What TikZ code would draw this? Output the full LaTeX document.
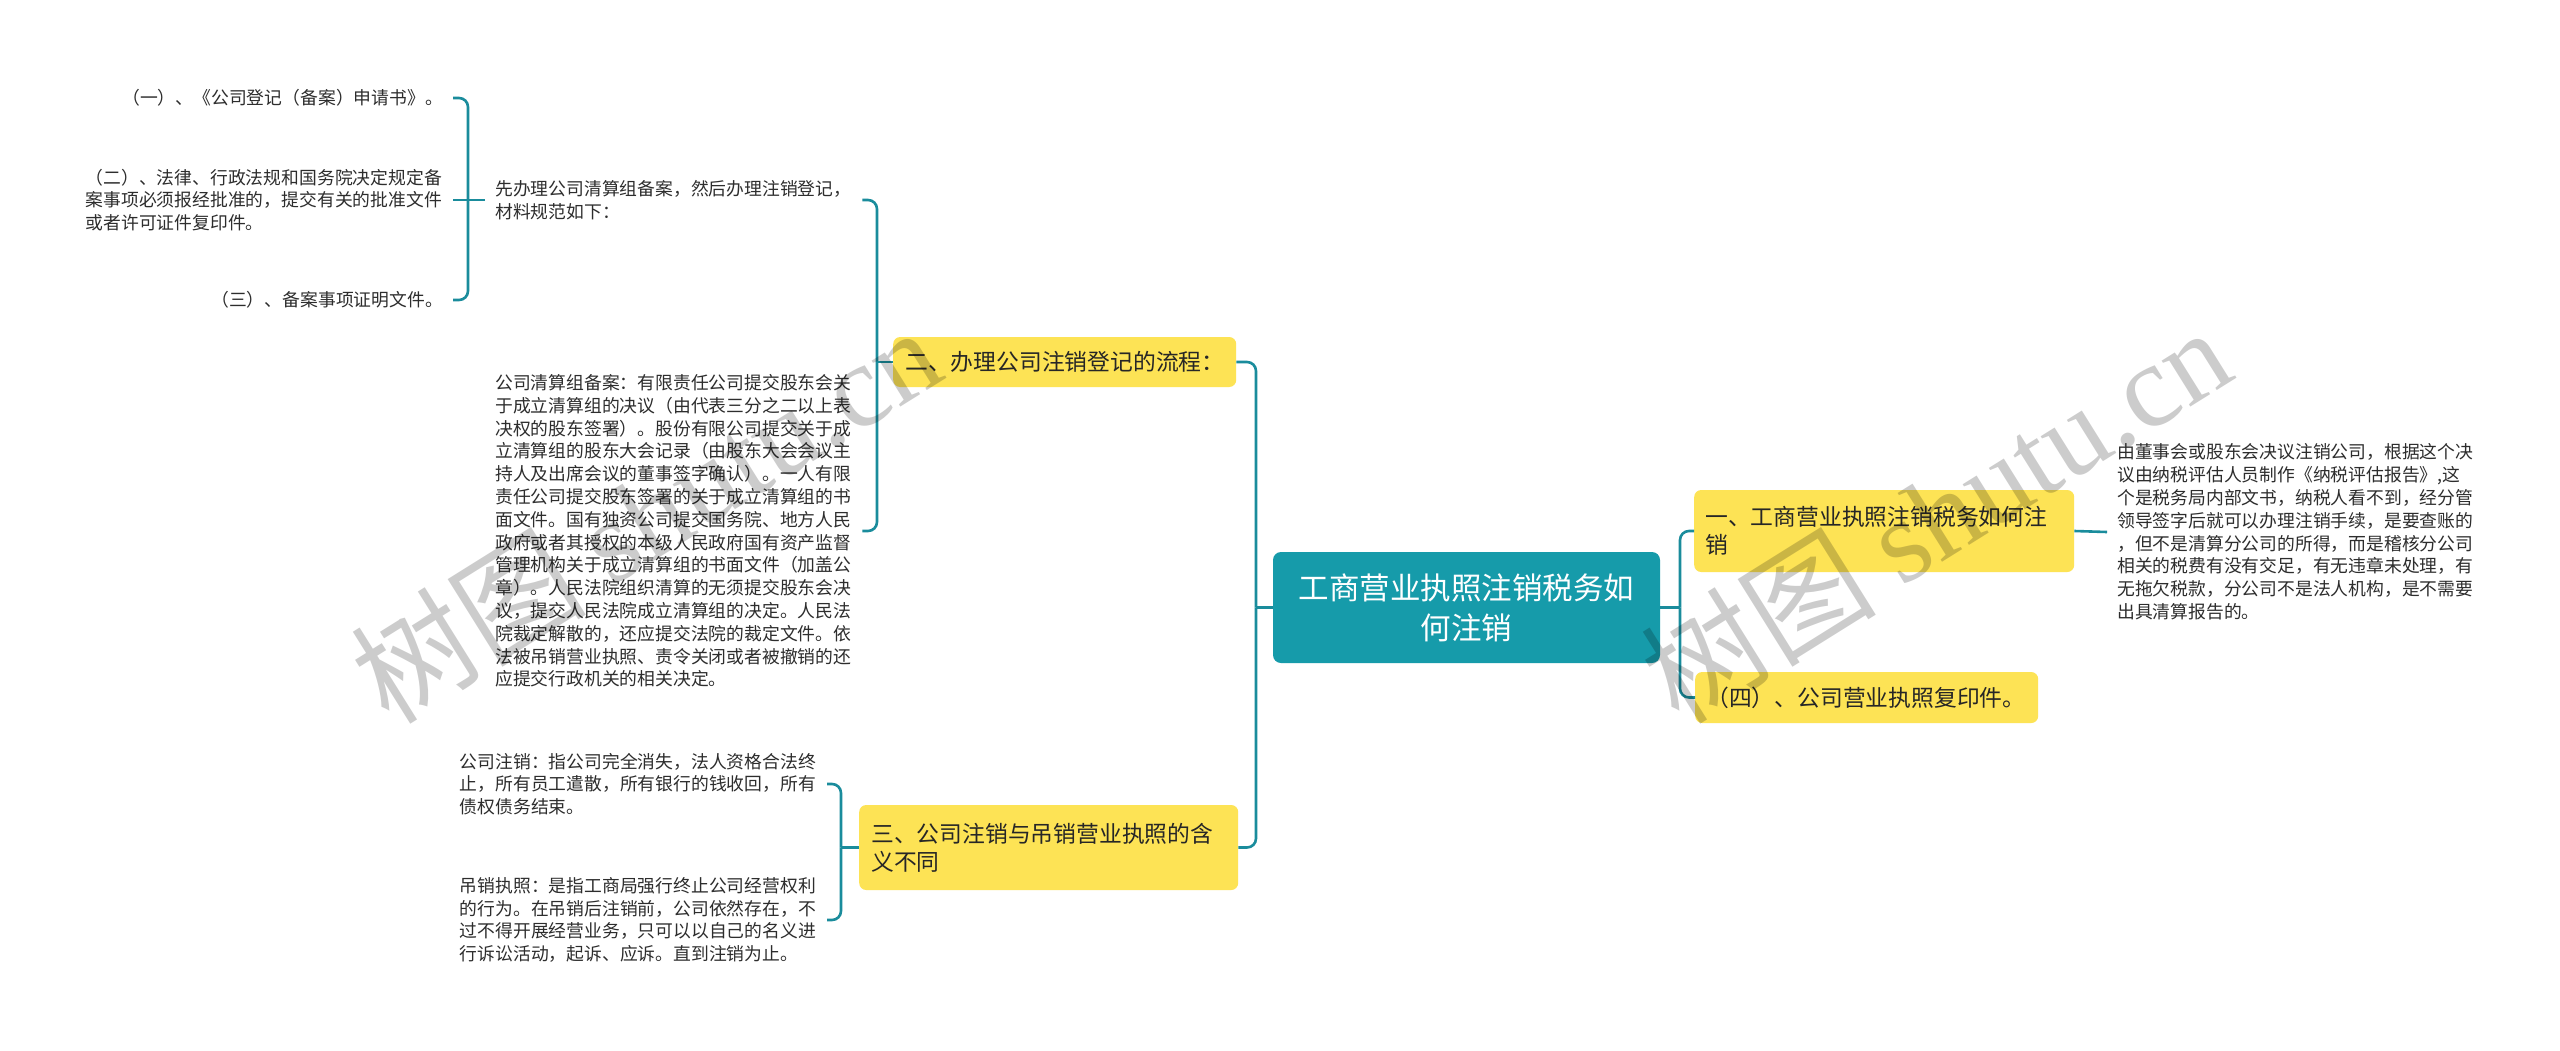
\documentclass[tikz,border=0pt]{standalone}
\usepackage{fontspec}
\setmainfont{Noto Sans CJK SC}
\newfontfamily\wmserif{Liberation Serif}
\definecolor{rootfill}{RGB}{22,155,170}
\definecolor{linecol}{RGB}{26,140,156}
\definecolor{yel}{RGB}{253,227,85}
\definecolor{txt}{RGB}{45,45,45}
\begin{document}
\begin{tikzpicture}[x=1bp,y=-1bp,
  conn/.style={draw=linecol, line width=2.6bp, rounded corners=9bp},
  rootbox/.style={fill=rootfill, rounded corners=8bp, minimum width=387bp, minimum height=111bp,
    inner sep=0bp, text=white, align=center, font=\fontsize{30.5bp}{40bp}\selectfont},
  ybox/.style={fill=yel, rounded corners=7bp, inner xsep=12bp, inner ysep=0bp, align=left,
    font=\fontsize{22.8bp}{28bp}\selectfont, text=black!85, anchor=west},
  small/.style={inner xsep=10bp, inner ysep=0bp, font=\fontsize{17.8bp}{22.8bp}\selectfont,
    text=txt, text width=357bp},
  wm/.style={text=black, opacity=0.2, font=\fontsize{118bp}{118bp}\selectfont, rotate=32, inner sep=0bp}
]
\fill[white] (0,0) rectangle (2560,1050);
\useasboundingbox (0,0) rectangle (2560,1050);

% main nodes
\node[rootbox] (root) at (1466.5,607.5) {工商营业执照注销税务如\\何注销};
\node[ybox, text width=319bp, minimum height=50bp] (b2) at (893,362) {二、办理公司注销登记的流程：};
\node[ybox, text width=355bp, minimum height=85bp] (b3) at (859,847.5) {三、公司注销与吊销营业执照的含\\义不同};
\node[ybox, inner xsep=11bp, text width=358bp, minimum height=82bp] (b1) at (1694,531) {一、工商营业执照注销税务如何注\\销};
\node[ybox, inner xsep=11bp, text width=321bp, minimum height=51bp] (b4) at (1695,697.5) {（四）、公司营业执照复印件。};

% text leaves
\node[small, anchor=west, align=left] (t21) at (485,200) {先办理公司清算组备案，然后办理注销登记，\\材料规范如下：};
\node[small, anchor=west, align=left] (t22) at (485,531) {公司清算组备案：有限责任公司提交股东会关\\于成立清算组的决议（由代表三分之二以上表\\决权的股东签署）。股份有限公司提交关于成\\立清算组的股东大会记录（由股东大会会议主\\持人及出席会议的董事签字确认）。一人有限\\责任公司提交股东签署的关于成立清算组的书\\面文件。国有独资公司提交国务院、地方人民\\政府或者其授权的本级人民政府国有资产监督\\管理机构关于成立清算组的书面文件（加盖公\\章）。人民法院组织清算的无须提交股东会决\\议，提交人民法院成立清算组的决定。人民法\\院裁定解散的，还应提交法院的裁定文件。依\\法被吊销营业执照、责令关闭或者被撤销的还\\应提交行政机关的相关决定。};
\node[small, anchor=east, align=right] (i1) at (453,98) {（一）、《公司登记（备案）申请书》。};
\node[small, anchor=east, align=left] (i2) at (453,200) {（二）、法律、行政法规和国务院决定规定备\\案事项必须报经批准的，提交有关的批准文件\\或者许可证件复印件。};
\node[small, anchor=east, align=right] (i3) at (453,300) {（三）、备案事项证明文件。};
\node[small, anchor=east, align=left] (t31) at (827,784) {公司注销：指公司完全消失，法人资格合法终\\止，所有员工遣散，所有银行的钱收回，所有\\债权债务结束。};
\node[small, anchor=east, align=left] (t32) at (827,920) {吊销执照：是指工商局强行终止公司经营权利\\的行为。在吊销后注销前，公司依然存在，不\\过不得开展经营业务，只可以以自己的名义进\\行诉讼活动，起诉、应诉。直到注销为止。};
\node[small, anchor=west, align=left] (t11) at (2107,532) {由董事会或股东会决议注销公司，根据这个决\\议由纳税评估人员制作《纳税评估报告》,这\\个是税务局内部文书，纳税人看不到，经分管\\领导签字后就可以办理注销手续，是要查账的\\，但不是清算分公司的所得，而是稽核分公司\\相关的税费有没有交足，有无违章未处理，有\\无拖欠税款，分公司不是法人机构，是不需要\\出具清算报告的。};

% junctions
\coordinate (j0) at (1256,607.5);
\coordinate (j1) at (1680,607.5);
\coordinate (j2) at (877,362);
\coordinate (j3) at (841,847.5);
\coordinate (j5) at (468,200);

% connectors
\draw[conn] (root.west) -- (j0);
\draw[conn] (j0) |- (b2.east);
\draw[conn] (j0) |- (b3.east);
\draw[conn] (root.east) -- (j1);
\draw[conn] (j1) |- (b1.west);
\draw[conn] (j1) |- (b4.west);
\draw[conn] (b1.east) -- (t11.west);
\draw[conn] (b2.west) -- (j2);
\draw[conn] (j2) |- (t21.east);
\draw[conn] (j2) |- (t22.east);
\draw[conn] (b3.west) -- (j3);
\draw[conn] (j3) |- (t31.east);
\draw[conn] (j3) |- (t32.east);
\draw[conn] (t21.west) -- (j5) -- (i2.east);
\draw[conn] (j5) |- (i1.east);
\draw[conn] (j5) |- (i3.east);

% watermarks
\node[wm] (wmA) at (645,514) {树图 {\wmserif shutu.cn}};
\node[wm] (wmB) at (1935,514) {树图 {\wmserif shutu.cn}};
\end{tikzpicture}
\end{document}
